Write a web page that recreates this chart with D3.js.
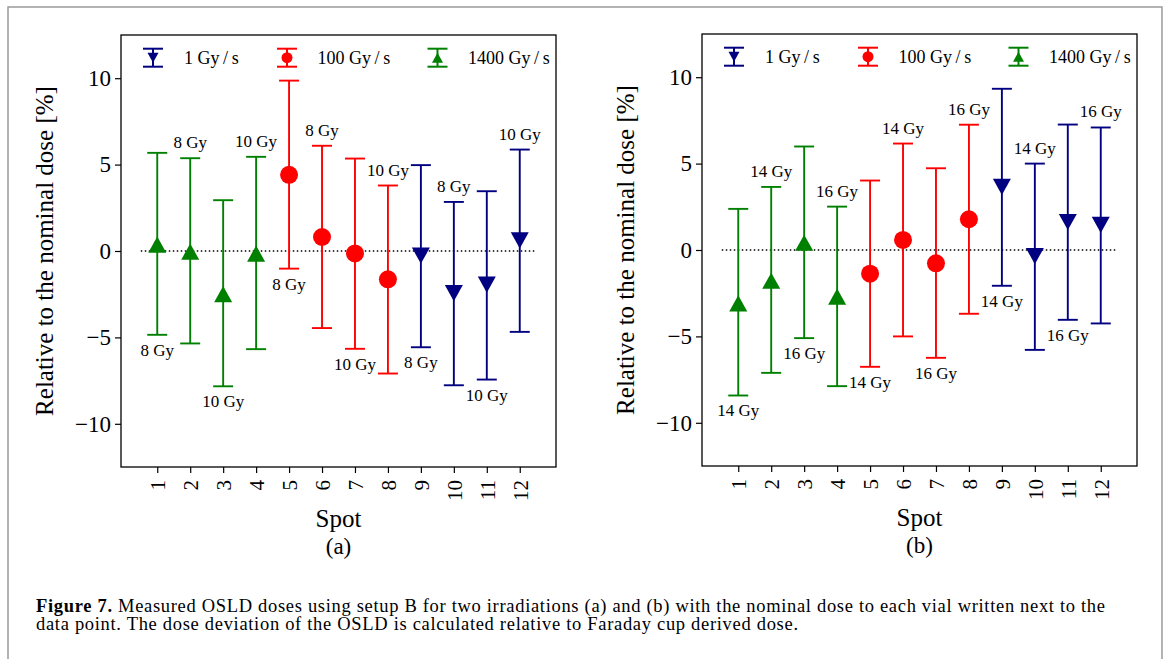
<!DOCTYPE html>
<html>
<head>
<meta charset="utf-8">
<script src="https://cdn.jsdelivr.net/npm/d3@7"></script>
<style>
  html, body { margin: 0; padding: 0; background: #fff; }
  svg { display: block; font-family: "Liberation Serif", "DejaVu Serif", serif; }
</style>
</head>
<body>
<svg id="fig" width="1168" height="659"></svg>
<script>
// ---- data ---------------------------------------------------------------
const spots = [1, 2, 3, 4, 5, 6, 7, 8, 9, 10, 11, 12];
// dose rate used for each spot (same assignment in both irradiations)
const spotRates = ["1400 Gy/s", "1400 Gy/s", "1400 Gy/s", "1400 Gy/s",
                   "100 Gy/s", "100 Gy/s", "100 Gy/s", "100 Gy/s",
                   "1 Gy/s", "1 Gy/s", "1 Gy/s", "1 Gy/s"];
const legendRates = ["1 Gy/s", "100 Gy/s", "1400 Gy/s"];
const yTicks = [-10, -5, 0, 5, 10];

// irradiation (a): deviation [%] with lower / upper error bounds
const devA   = [0.37, -0.04, -2.49, -0.15, 4.41, 0.81, -0.14, -1.64, -0.27, -2.44, -1.95, 0.62];
const lowA   = [-4.85, -5.35, -7.83, -5.68, -1.02, -4.46, -5.66, -7.09, -5.57, -7.77, -7.44, -4.68];
const highA  = [5.68, 5.37, 2.94, 5.45, 9.86, 6.09, 5.35, 3.79, 4.97, 2.84, 3.46, 5.87];
const doseA  = ["8 Gy", "8 Gy", "10 Gy", "10 Gy", "8 Gy", "8 Gy", "10 Gy", "10 Gy", "8 Gy", "8 Gy", "10 Gy", "10 Gy"];

// irradiation (b)
const devB   = [-3.09, -1.78, 0.42, -2.70, -1.37, 0.58, -0.77, 1.78, 3.65, -0.35, 1.62, 1.45];
const lowB   = [-8.42, -7.11, -5.10, -7.88, -6.76, -5.00, -6.24, -3.69, -2.07, -5.78, -4.04, -4.25];
const highB  = [2.38, 3.65, 5.99, 2.51, 4.02, 6.16, 4.73, 7.25, 9.33, 5.00, 7.26, 7.09];
const doseB  = ["14 Gy", "14 Gy", "16 Gy", "16 Gy", "14 Gy", "14 Gy", "16 Gy", "16 Gy", "14 Gy", "14 Gy", "16 Gy", "16 Gy"];

// dose label sits below the bar for odd spots, above for even spots
const labelSide = ["below", "above", "below", "above", "below", "above",
                   "below", "above", "below", "above", "below", "above"];

// ---- styles ------------------------------------------------------------
const rateStyle = {
  "1 Gy/s":    { color: "#000080", shape: "down" },
  "100 Gy/s":  { color: "#ff0000", shape: "circle" },
  "1400 Gy/s": { color: "#008000", shape: "up" }
};

const svg = d3.select("#fig");

// page frame
svg.append("rect")
  .attr("x", 8).attr("y", 7).attr("width", 1154).attr("height", 670)
  .attr("fill", "#fff").attr("stroke", "#9a9a9a").attr("stroke-width", 1.5);

function markerPath(shape, cx, cy, w, h) {
  if (shape === "up")
    return `M${cx},${cy - h / 2}L${cx + w / 2},${cy + h / 2}L${cx - w / 2},${cy + h / 2}Z`;
  return `M${cx},${cy + h / 2}L${cx + w / 2},${cy - h / 2}L${cx - w / 2},${cy - h / 2}Z`;
}

function drawMarker(g, shape, color, cx, cy, size) {
  if (shape === "circle") {
    g.append("circle").attr("cx", cx).attr("cy", cy).attr("r", size / 2).attr("fill", color);
  } else {
    g.append("path").attr("d", markerPath(shape, cx, cy, size, size * 0.9)).attr("fill", color);
  }
}

function rateText(r) { return r.replace("/", "\u2009/\u2009"); }

function drawPanel(frame, dev, low, high, dose, tag) {
  const { left, top, width, height } = frame;
  const g = svg.append("g");

  const x = d3.scaleLinear().domain([-0.1, 13.1]).range([left, left + width]);
  const y = d3.scaleLinear().domain([-12.5, 12.5]).range([top + height, top]);

  // reference line at zero deviation
  g.append("line")
    .attr("x1", x(0.5)).attr("x2", x(12.5))
    .attr("y1", y(0)).attr("y2", y(0))
    .attr("stroke", "#000").attr("stroke-width", 1.5)
    .attr("stroke-dasharray", "1.5,2.5");

  const capW = 20;
  spots.forEach((s, i) => {
    const st = rateStyle[spotRates[i]];
    const cx = x(s);
    const bar = g.append("g").attr("stroke", st.color).attr("stroke-width", 1.9);
    bar.append("line").attr("x1", cx).attr("x2", cx).attr("y1", y(low[i])).attr("y2", y(high[i]));
    bar.append("line").attr("x1", cx - capW / 2).attr("x2", cx + capW / 2).attr("y1", y(low[i])).attr("y2", y(low[i]));
    bar.append("line").attr("x1", cx - capW / 2).attr("x2", cx + capW / 2).attr("y1", y(high[i])).attr("y2", y(high[i]));
    drawMarker(g, st.shape, st.color, cx, y(dev[i]), 18);

    const above = labelSide[i] === "above";
    g.append("text")
      .attr("x", cx)
      .attr("y", above ? y(high[i]) - 10 : y(low[i]) + 21)
      .attr("text-anchor", "middle")
      .attr("font-size", 17)
      .attr("fill", "#000")
      .text(dose[i]);
  });

  // axes
  const yAxis = g.append("g").attr("transform", `translate(${left},0)`)
    .call(d3.axisLeft(y).tickValues(yTicks).tickSize(6).tickPadding(4));
  yAxis.select(".domain").remove();
  yAxis.selectAll("text").attr("font-size", 23).attr("font-family", "Liberation Serif, serif");
  yAxis.selectAll("line").attr("stroke-width", 1.2);

  const xAxis = g.append("g").attr("transform", `translate(0,${top + height})`)
    .call(d3.axisBottom(x).tickValues(spots).tickSize(6));
  xAxis.select(".domain").remove();
  xAxis.selectAll("line").attr("stroke-width", 1.2);
  xAxis.selectAll("text")
    .attr("font-size", 21).attr("font-family", "Liberation Serif, serif")
    .attr("transform", "rotate(-90)")
    .attr("text-anchor", "end")
    .attr("x", -13).attr("y", 0).attr("dy", "0.35em");

  // frame of the axes
  g.append("rect")
    .attr("x", left).attr("y", top).attr("width", width).attr("height", height)
    .attr("fill", "none").attr("stroke", "#000").attr("stroke-width", 1.3);

  // legend
  const legX = [32, 166, 316.5];
  const legTx = [63, 196.5, 347];
  const legY = top + 22.7;
  legendRates.forEach((r, k) => {
    const st = rateStyle[r];
    const cx = left + legX[k];
    const lg = g.append("g");
    const eb = lg.append("g").attr("stroke", st.color).attr("stroke-width", 2);
    eb.append("line").attr("x1", cx).attr("x2", cx).attr("y1", legY - 9).attr("y2", legY + 9);
    eb.append("line").attr("x1", cx - 10).attr("x2", cx + 10).attr("y1", legY - 9).attr("y2", legY - 9);
    eb.append("line").attr("x1", cx - 10).attr("x2", cx + 10).attr("y1", legY + 9).attr("y2", legY + 9);
    drawMarker(lg, st.shape, st.color, cx, legY, 11);
    lg.append("text").attr("x", left + legTx[k]).attr("y", legY + 6.5)
      .attr("font-size", 18).text(rateText(r));
  });

  // axis titles
  g.append("text")
    .attr("transform", `translate(${left - 68},${top + height / 2}) rotate(-90)`)
    .attr("text-anchor", "middle").attr("font-size", 25)
    .text("Relative to the nominal dose [%]");
  g.append("text")
    .attr("x", left + width / 2).attr("y", top + height + 60)
    .attr("text-anchor", "middle").attr("font-size", 25).text("Spot");
  g.append("text")
    .attr("x", left + width / 2).attr("y", top + height + 87)
    .attr("text-anchor", "middle").attr("font-size", 23).text(`(${tag})`);
}

drawPanel({ left: 121, top: 35, width: 435, height: 432 }, devA, lowA, highA, doseA, "a");
drawPanel({ left: 702, top: 34, width: 435, height: 432 }, devB, lowB, highB, doseB, "b");

// caption
const cap1 = svg.append("text").attr("x", 36).attr("y", 611.7).attr("font-size", 18.5)
  .attr("textLength", 1069).attr("lengthAdjust", "spacing");
cap1.append("tspan").attr("font-weight", "bold").text("Figure 7.");
cap1.append("tspan").text(" Measured OSLD doses using setup B for two irradiations (a) and (b) with the nominal dose to each vial written next to the");
svg.append("text").attr("x", 36).attr("y", 629.8).attr("font-size", 18.5)
  .attr("textLength", 762).attr("lengthAdjust", "spacing")
  .text("data point. The dose deviation of the OSLD is calculated relative to Faraday cup derived dose.");
</script>
</body>
</html>
